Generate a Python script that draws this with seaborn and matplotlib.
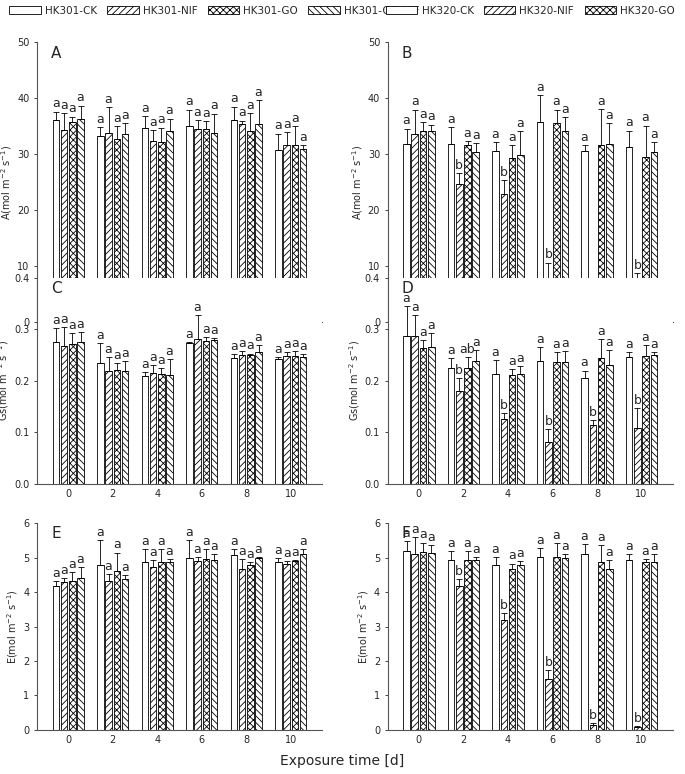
import numpy as np
import pandas as pd
import matplotlib.pyplot as plt
import matplotlib.patches as mpatches
import seaborn as sns

plt.rcParams['font.family'] = 'Liberation Serif'
plt.rcParams['hatch.linewidth'] = 0.6
sns.set_style('ticks')

days = ['0', '2', '4', '6', '8', '10']
treat_301 = ['HK301-CK', 'HK301-NIF', 'HK301-GO', 'HK301-GO-NIF']
treat_320 = ['HK320-CK', 'HK320-NIF', 'HK320-GO', 'HK320-GO-NIF']
hatches = ['', '/////', 'xxxxx', '\\\\\\\\\\']

# rows = days, columns = treatments (CK, NIF, GO, GO-NIF)
A_mean = [[36.0, 34.3, 35.6, 36.3], [33.2, 33.7, 32.6, 33.5], [34.7, 32.3, 32.2, 34.0],
          [34.9, 34.4, 34.5, 33.8], [36.1, 35.3, 34.0, 35.3], [30.7, 31.6, 31.6, 30.9]]
A_err = [[1.5, 3.0, 1.0, 2.3], [1.6, 4.6, 2.3, 2.0], [2.0, 1.9, 2.5, 2.3],
         [3.0, 1.6, 1.3, 3.4], [2.3, 0.6, 3.3, 4.3], [2.9, 2.3, 3.3, 0.6]]
B_mean = [[31.7, 33.6, 34.1, 34.1], [31.7, 24.6, 31.5, 30.4], [30.6, 22.9, 29.2, 29.8],
          [35.7, 7.9, 35.5, 34.0], [30.5, 4.5, 31.6, 31.7], [31.3, 7.1, 29.4, 30.3]]
B_err = [[2.8, 4.3, 1.6, 1.1], [3.1, 1.9, 0.8, 1.5], [1.5, 2.4, 2.4, 4.2],
         [4.8, 2.7, 2.4, 2.5], [1.0, 0.6, 6.4, 3.8], [2.8, 1.6, 5.6, 1.8]]
C_mean = [[.275, .268, .271, .276], [.235, .219, .221, .220], [.209, .216, .213, .211],
          [.274, .282, .277, .279], [.244, .250, .250, .255], [.243, .249, .248, .246]]
C_err = [[.027, .037, .022, .018], [.039, .028, .013, .018], [.009, .014, .011, .032],
         [.002, .045, .009, .005], [.008, .007, .003, .015], [.003, .006, .010, .006]]
D_mean = [[.288, .288, .264, .265], [.224, .180, .224, .238], [.214, .125, .211, .214],
          [.239, .081, .236, .236], [.205, .115, .244, .230], [.246, .108, .248, .250]]
D_err = [[.057, .039, .015, .028], [.020, .026, .022, .022], [.027, .013, .012, .014],
         [.027, .026, .019, .022], [.015, .009, .038, .030], [.009, .040, .021, .005]]
E_mean = [[4.18, 4.30, 4.32, 4.40], [4.78, 4.32, 4.60, 4.37], [4.86, 4.72, 4.86, 4.86],
          [5.00, 4.90, 4.95, 4.93], [5.08, 4.68, 4.80, 4.98], [4.86, 4.82, 4.90, 5.12]]
E_err = [[.14, .12, .25, .33], [.72, .20, .55, .13], [.40, .20, .38, .10],
         [.52, .13, .30, .18], [.17, .27, .08, .05], [.14, .08, .02, .14]]
F_mean = [[5.20, 5.10, 5.17, 5.14], [4.93, 4.18, 4.93, 4.93], [4.78, 3.20, 4.68, 4.78],
          [5.02, 1.48, 5.02, 4.98], [5.12, 0.14, 4.86, 4.66], [4.93, 0.08, 4.88, 4.88]]
F_err = [[.27, .50, .27, .23], [.27, .20, .27, .10], [.23, .20, .15, .13],
         [.25, .25, .40, .12], [.28, .05, .52, .27], [.18, .02, .08, .22]]

letters_all_a = [['a'] * 4 for _ in days]
B_letters = [['a'] * 4] + [['a', 'b', 'a', 'a'] for _ in range(5)]
D_letters = [['a'] * 4, ['a', 'b', 'ab', 'a']] + [['a', 'b', 'a', 'a'] for _ in range(4)]
F_letters = B_letters

panels = [
    ('A', A_mean, A_err, letters_all_a, treat_301, 50, 10, '%d', 'A(mol m$^{-2}$ s$^{-1}$)'),
    ('B', B_mean, B_err, B_letters, treat_320, 50, 10, '%d', 'A(mol m$^{-2}$ s$^{-1}$)'),
    ('C', C_mean, C_err, letters_all_a, treat_301, 0.4, 0.1, '%.1f', 'Gs(mol m$^{-2}$ s$^{-1}$)'),
    ('D', D_mean, D_err, D_letters, treat_320, 0.4, 0.1, '%.1f', 'Gs(mol m$^{-2}$ s$^{-1}$)'),
    ('E', E_mean, E_err, letters_all_a, treat_301, 6, 1, '%d', 'E(mol m$^{-2}$ s$^{-1}$)'),
    ('F', F_mean, F_err, F_letters, treat_320, 6, 1, '%d', 'E(mol m$^{-2}$ s$^{-1}$)'),
]

fig = plt.figure(figsize=(6.85, 7.74), dpi=100)
lefts = [0.054, 0.566]
rows = [(0.584, 0.362), (0.375, 0.266), (0.057, 0.267)]

for i, (lab, mean, err, lets, treats, ymax, step, fmt, ylab) in enumerate(panels):
    b, h = rows[i // 2]
    ax = fig.add_axes([lefts[i % 2], b, 0.416, h])
    df = pd.DataFrame([(d, t, mean[j][k]) for j, d in enumerate(days)
                       for k, t in enumerate(treats)], columns=['day', 'treat', 'val'])
    sns.barplot(data=df, x='day', y='val', hue='treat', order=days, hue_order=treats,
                width=0.74, errorbar=None, legend=False, ax=ax,
                palette=['white'] * 4, edgecolor='black', linewidth=0.6)
    bar_conts = list(ax.containers)
    for k, cont in enumerate(bar_conts):
        for j, p in enumerate(cont.patches):
            w = p.get_width()
            p.set_x(p.get_x() + w * 0.1)
            p.set_width(w * 0.8)
            p.set_hatch(hatches[k])
            xc = p.get_x() + p.get_width() / 2
            top = mean[j][k] + err[j][k]
            ax.errorbar(xc, mean[j][k], yerr=[[0], [err[j][k]]], fmt='none',
                        ecolor='black', elinewidth=0.6, capsize=2.2, capthick=0.6)
            ax.text(xc, top + ymax * 0.005, lets[j][k], ha='center', va='bottom', fontsize=9)
    ax.set_ylim(0, ymax)
    ax.set_xlim(-0.7, 5.7)
    ticks = np.arange(0, ymax + step / 2, step)
    ax.set_yticks(ticks)
    ax.set_yticklabels([fmt % v for v in ticks], fontsize=7)
    ax.tick_params(axis='x', length=0, labelsize=7)
    ax.tick_params(axis='y', length=2, width=0.6)
    ax.set_xlabel('')
    ax.set_ylabel(ylab, fontsize=7, labelpad=2)
    sns.despine(ax=ax)
    for s in ['left', 'bottom']:
        ax.spines[s].set_linewidth(0.8)
        ax.spines[s].set_color('#555555')
    ax.text(0.05, 0.985, lab, transform=ax.transAxes, fontsize=11, va='top')

for treats, x0 in [(treat_301, 0.0), (treat_320, 0.55)]:
    handles = [mpatches.Patch(facecolor='white', edgecolor='black', hatch=hatches[k],
                              linewidth=0.6, label=t) for k, t in enumerate(treats)]
    fig.legend(handles=handles, loc='upper left', bbox_to_anchor=(x0, 1.005), ncol=4,
               frameon=False, fontsize=7.5, handlelength=3, handleheight=0.7,
               columnspacing=1.0, handletextpad=0.4)

fig.text(0.5, 0.012, 'Exposure time [d]', ha='center', fontsize=10)
fig.savefig('out.png', dpi=100)
